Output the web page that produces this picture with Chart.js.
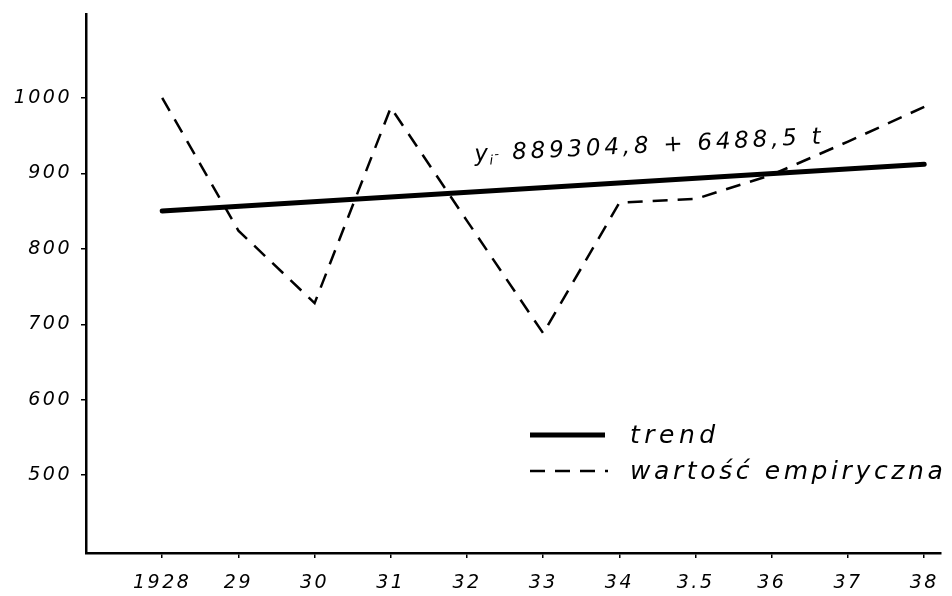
<!DOCTYPE html>
<html>
<head>
<meta charset="utf-8">
<script src="https://cdn.jsdelivr.net/npm/chart.js@4.4.1/dist/chart.umd.min.js"></script>
<style>
html,body{margin:0;padding:0;background:#fff;}
canvas{display:block;}
</style>
</head>
<body>
<canvas id="c" width="952" height="596"></canvas>
<script>
// Data
const years = [1928, 1929, 1930, 1931, 1932, 1933, 1934, 1935, 1936, 1937, 1938];
const yearLabels = ['1928', '29', '30', '31', '32', '33', '34', '3.5', '36', '37', '38'];
const empirical = [1000, 824, 728, 987, 837, 688, 861, 866, 898, 942, 988];
const trendYears = [1928, 1938];
const trendValues = [850, 912];
const yTicks = [500, 600, 700, 800, 900, 1000];
const equationText = '889304,8 + 6488,5 t';
const legendLabels = ['trend', 'wartość empiryczna'];

const ctx = document.getElementById('c').getContext('2d');

const overlayPlugin = {
  id: 'overlay',
  beforeLayout(chart) { chart.ctx.letterSpacing = '2.5px'; },
  beforeDraw(chart) { chart.ctx.letterSpacing = '2.5px'; },
  afterDatasetsDraw(chart) {
    const c = chart.ctx;
    const xs = chart.scales.x, ys = chart.scales.y;
    c.save();
    c.fillStyle = '#000';
    // equation along trend line
    const ex = xs.getPixelForValue(1932.1), ey = ys.getPixelForValue(916);
    c.translate(ex, ey);
    c.rotate(-2.9 * Math.PI / 180);
    c.textBaseline = 'alphabetic';
    c.letterSpacing = '0px';
    c.font = 'italic 23px "DejaVu Sans"';
    c.fillText('y', 0, 0);
    c.font = 'italic 13px "DejaVu Sans"';
    c.fillText('i', 15, 4);
    c.fillText('-', 20, -2);
    c.font = 'italic 23px "DejaVu Sans"';
    c.letterSpacing = '3.8px';
    c.fillText(equationText, 38, 0);
    c.restore();

    // legend
    c.save();
    const lx0 = 530, lx1 = 605, tx = 630;
    c.strokeStyle = '#000';
    c.lineWidth = 5;
    c.beginPath(); c.moveTo(lx0, 435); c.lineTo(lx1, 435); c.stroke();
    c.lineWidth = 2.5;
    c.setLineDash([15, 10]);
    c.beginPath(); c.moveTo(lx0, 471); c.lineTo(lx1 + 3, 471); c.stroke();
    c.setLineDash([]);
    c.fillStyle = '#000';
    c.font = 'italic 25px "DejaVu Sans"';
    c.textBaseline = 'alphabetic';
    c.letterSpacing = '4.5px';
    c.fillText(legendLabels[0], tx, 443);
    c.letterSpacing = '3.6px';
    c.fillText(legendLabels[1], tx, 479);
    c.restore();
  }
};

new Chart(ctx, {
  type: 'line',
  data: {
    datasets: [
      {
        label: legendLabels[0],
        data: trendYears.map((x, i) => ({x: x, y: trendValues[i]})),
        borderColor: '#000',
        borderWidth: 5,
        pointRadius: 0,
        borderCapStyle: 'round',
        tension: 0
      },
      {
        label: legendLabels[1],
        data: years.map((x, i) => ({x: x, y: empirical[i]})),
        borderColor: '#000',
        borderWidth: 2.5,
        borderDash: [15, 10],
        pointRadius: 0,
        tension: 0
      }
    ]
  },
  options: {
    responsive: false,
    animation: false,
    devicePixelRatio: 1,
    layout: {padding: {top: 14, right: 11, left: 0, bottom: 0}},
    plugins: {legend: {display: false}, tooltip: {enabled: false}},
    scales: {
      x: {
        type: 'linear',
        min: 1927,
        max: 1938.22,
        afterBuildTicks(scale) { scale.ticks = years.map(v => ({value: v})); },
        afterFit(scale) { scale.height = 43; scale.paddingLeft = 0; scale.paddingRight = 0; },
        ticks: {
          callback(v) { const i = years.indexOf(v); return i >= 0 ? yearLabels[i] : ''; },
          color: '#000',
          font: {family: 'DejaVu Sans', size: 19, style: 'italic'},
          padding: 14,
          maxRotation: 0,
          autoSkip: false
        },
        grid: {drawOnChartArea: false, drawTicks: true, tickLength: 5, color: '#000', lineWidth: 1.5},
        border: {display: true, color: '#000', width: 2.5}
      },
      y: {
        type: 'linear',
        min: 397,
        max: 1111,
        afterBuildTicks(scale) { scale.ticks = yTicks.map(v => ({value: v})); },
        afterFit(scale) { scale.width = 86; scale.paddingTop = 0; scale.paddingBottom = 0; },
        ticks: {
          callback(v) { return String(v); },
          color: '#000',
          font: {family: 'DejaVu Sans', size: 19, style: 'italic'},
          padding: 9
        },
        grid: {drawOnChartArea: false, drawTicks: true, tickLength: 5, color: '#000', lineWidth: 1.5},
        border: {display: true, color: '#000', width: 2.5}
      }
    }
  },
  plugins: [overlayPlugin]
});
</script>
</body>
</html>
